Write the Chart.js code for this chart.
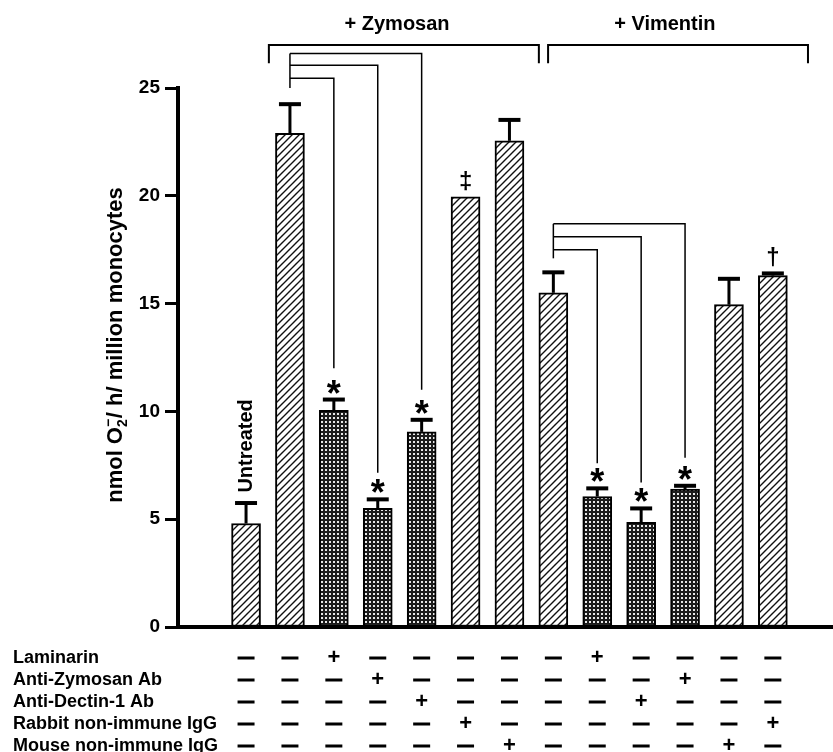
<!DOCTYPE html>
<html>
<head>
<meta charset="utf-8">
<script src="https://cdn.jsdelivr.net/npm/chart.js@4"></script>
<style>
  html, body { margin: 0; padding: 0; background: #fff; }
  canvas { display: block; }
</style>
</head>
<body>
<canvas id="superoxideChart" width="833" height="752"></canvas>
<script>
const FONT = "'Liberation Sans', Arial, Helvetica, sans-serif";

// bar positions (1..13) and values
const barPositions = [1, 2, 3, 4, 5, 6, 7, 8, 9, 10, 11, 12, 13];
const barValues = [4.8, 22.9, 10.05, 5.5, 9.05, 19.95, 22.55, 15.5, 6.05, 4.85, 6.4, 14.95, 16.3];
const barErrors = [0.95, 1.35, 0.5, 0.42, 0.56, 0, 0.97, 0.95, 0.38, 0.65, 0.15, 1.2, 0.1];
const barFills = ['hatch', 'hatch', 'dots', 'dots', 'dots', 'hatch', 'hatch',
                  'hatch', 'dots', 'dots', 'dots', 'hatch', 'hatch'];
const barMarks = ['', '', '*', '*', '*', '‡', '', '', '*', '*', '*', '', '†'];

const yTickStep = 5;

// treatment table under the axis
const treatmentNames = ['Laminarin', 'Anti-Zymosan Ab', 'Anti-Dectin-1 Ab',
                        'Rabbit non-immune IgG', 'Mouse non-immune IgG'];
const laminarinSigns   = ['-', '-', '+', '-', '-', '-', '-', '-', '+', '-', '-', '-', '-'];
const antiZymosanSigns = ['-', '-', '-', '+', '-', '-', '-', '-', '-', '-', '+', '-', '-'];
const antiDectinSigns  = ['-', '-', '-', '-', '+', '-', '-', '-', '-', '+', '-', '-', '-'];
const rabbitIgGSigns   = ['-', '-', '-', '-', '-', '+', '-', '-', '-', '-', '-', '-', '+'];
const mouseIgGSigns    = ['-', '-', '-', '-', '-', '-', '+', '-', '-', '-', '-', '+', '-'];
const treatmentSigns = [laminarinSigns, antiZymosanSigns, antiDectinSigns, rabbitIgGSigns, mouseIgGSigns];

// fill patterns
function makeHatch() {
    const c = document.createElement('canvas');
    c.width = 7; c.height = 7;
    const g = c.getContext('2d');
    g.fillStyle = '#fff';
    g.fillRect(0, 0, 7, 7);
    g.strokeStyle = '#111';
    g.lineWidth = 1.4;
    g.beginPath();
    g.moveTo(-1, 8); g.lineTo(8, -1);
    g.moveTo(-1, 1); g.lineTo(1, -1);
    g.moveTo(6, 8); g.lineTo(8, 6);
    g.stroke();
    return g.createPattern(c, 'repeat');
}
function makeDots() {
    const c = document.createElement('canvas');
    c.width = 4; c.height = 4;
    const g = c.getContext('2d');
    g.fillStyle = '#1c1c1c';
    g.fillRect(0, 0, 4, 4);
    g.fillStyle = '#e8e8e8';
    g.fillRect(1, 1, 2, 2);
    return g.createPattern(c, 'repeat');
}
const patterns = { hatch: makeHatch(), dots: makeDots() };

// drawing of the figure's extra marks (error bars, brackets, table)
const figurePlugin = {
    id: 'figureExtras',
    afterDraw(chart) {
        const { ctx, scales: { x, y } } = chart;
        ctx.save();
        ctx.strokeStyle = '#000';
        ctx.fillStyle = '#000';

        // error bars (upper only)
        barPositions.forEach((p, i) => {
            if (!barErrors[i]) return;
            const px = x.getPixelForValue(p);
            const yb = y.getPixelForValue(barValues[i]);
            const yt = y.getPixelForValue(barValues[i] + barErrors[i]);
            ctx.lineWidth = 3;
            ctx.beginPath();
            ctx.moveTo(px, yb); ctx.lineTo(px, yt);
            ctx.stroke();
            ctx.lineWidth = 4;
            ctx.beginPath();
            ctx.moveTo(px - 11, yt); ctx.lineTo(px + 11, yt);
            ctx.stroke();
        });

        // significance marks
        ctx.textAlign = 'center';
        ctx.textBaseline = 'alphabetic';
        barPositions.forEach((p, i) => {
            const m = barMarks[i];
            if (!m) return;
            const px = x.getPixelForValue(p);
            const yt = y.getPixelForValue(barValues[i] + barErrors[i]);
            if (m === '*') {
                ctx.font = `bold 36px ${FONT}`;
                ctx.fillText(m, px, yt + 6);
            } else {
                ctx.font = `bold 24px ${FONT}`;
                ctx.fillText(m, px, yt - 8);
            }
        });

        // "Untreated" label
        ctx.save();
        ctx.translate(x.getPixelForValue(1), y.getPixelForValue(8.4));
        ctx.rotate(-Math.PI / 2);
        ctx.textBaseline = 'middle';
        ctx.font = `bold 20px ${FONT}`;
        ctx.fillText('Untreated', 0, 0);
        ctx.restore();

        // group brackets
        const groups = [
            { label: '+ Zymosan', from: 1.52, to: 7.67, mid: 4.44 },
            { label: '+ Vimentin', from: 7.88, to: 13.8, mid: 10.54 }
        ];
        ctx.lineWidth = 2;
        groups.forEach(g => {
            const x1 = x.getPixelForValue(g.from), x2 = x.getPixelForValue(g.to);
            const yTop = y.getPixelForValue(27.0), yEnd = y.getPixelForValue(26.15);
            ctx.beginPath();
            ctx.moveTo(x1, yEnd); ctx.lineTo(x1, yTop); ctx.lineTo(x2, yTop); ctx.lineTo(x2, yEnd);
            ctx.stroke();
            ctx.font = `bold 20px ${FONT}`;
            ctx.fillText(g.label, x.getPixelForValue(g.mid), 30);
        });

        // comparison lines
        const comparisons = [
            { from: 2, base: 25.0, links: [[5, 26.6, 11.0], [4, 26.05, 7.15], [3, 25.45, 12.0]] },
            { from: 8, base: 17.1, links: [[11, 18.7, 7.85], [10, 18.1, 6.7], [9, 17.5, 7.6]] }
        ];
        ctx.lineWidth = 1.5;
        comparisons.forEach(c => {
            const x0 = x.getPixelForValue(c.from);
            ctx.beginPath();
            ctx.moveTo(x0, y.getPixelForValue(c.base));
            ctx.lineTo(x0, y.getPixelForValue(c.links[0][1]));
            ctx.stroke();
            c.links.forEach(([to, level, end]) => {
                const xt = x.getPixelForValue(to);
                const yl = y.getPixelForValue(level);
                ctx.beginPath();
                ctx.moveTo(x0, yl); ctx.lineTo(xt, yl); ctx.lineTo(xt, y.getPixelForValue(end));
                ctx.stroke();
            });
        });

        // y axis title with O2 sub/superscript
        ctx.save();
        ctx.translate(122, 345);
        ctx.rotate(-Math.PI / 2);
        ctx.textAlign = 'left';
        const big = `bold 22px ${FONT}`, small = `bold 14px ${FONT}`;
        ctx.font = big;
        const w1 = ctx.measureText('nmol O').width;
        const w3 = ctx.measureText('/ h/ million monocytes').width;
        ctx.font = small;
        const w2 = ctx.measureText('2').width + 1;
        let cx = -(w1 + w2 + w3) / 2;
        ctx.font = big;
        ctx.fillText('nmol O', cx, 0);
        cx += w1;
        ctx.font = small;
        ctx.fillText('2', cx, 5);
        ctx.fillText('\u2212', cx, -9);
        cx += w2;
        ctx.font = big;
        ctx.fillText('/ h/ million monocytes', cx, 0);
        ctx.restore();

        // treatment table
        const rowY = [664, 686, 708, 730, 752];
        treatmentNames.forEach((name, r) => {
            ctx.textAlign = 'left';
            ctx.font = `bold 18px ${FONT}`;
            ctx.fillText(name, 13, rowY[r] - 1);
            treatmentSigns[r].forEach((s, i) => {
                const px = x.getPixelForValue(barPositions[i]);
                ctx.textAlign = 'center';
                if (s === '+') {
                    ctx.font = `bold 22px ${FONT}`;
                    ctx.fillText('+', px, rowY[r]);
                } else {
                    ctx.lineWidth = 3;
                    ctx.beginPath();
                    ctx.moveTo(px - 8.5, rowY[r] - 6); ctx.lineTo(px + 8.5, rowY[r] - 6);
                    ctx.stroke();
                }
            });
        });

        ctx.restore();
    }
};

const ctx = document.getElementById('superoxideChart').getContext('2d');
const superoxideChart = new Chart(ctx, {
    type: 'bar',
    data: {
        datasets: [{
            data: barPositions.map((p, i) => ({ x: p, y: barValues[i] })),
            backgroundColor: barFills.map(f => patterns[f]),
            borderColor: '#000',
            borderWidth: 2,
            borderSkipped: false,
            barThickness: 29
        }]
    },
    options: {
        responsive: false,
        animation: false,
        layout: { padding: { top: 88, bottom: 125, left: 0, right: 0 } },
        plugins: {
            legend: { display: false },
            tooltip: { enabled: false }
        },
        scales: {
            x: {
                type: 'linear',
                min: -0.55,
                max: 14.37,
                offset: false,
                ticks: { display: false },
                grid: { display: false },
                border: { display: true, width: 4, color: '#000' },
                afterFit: s => { s.height = 0; }
            },
            y: {
                min: 0,
                max: 25,
                ticks: {
                    stepSize: yTickStep,
                    padding: 5,
                    color: '#000',
                    font: { family: FONT, size: 19, weight: 'bold' }
                },
                grid: {
                    drawOnChartArea: false,
                    drawTicks: true,
                    tickLength: 13,
                    tickWidth: 3,
                    tickColor: '#000'
                },
                border: { width: 4, color: '#000' },
                afterFit: s => { s.width = 178; }
            }
        }
    },
    plugins: [figurePlugin]
});
</script>
</body>
</html>
